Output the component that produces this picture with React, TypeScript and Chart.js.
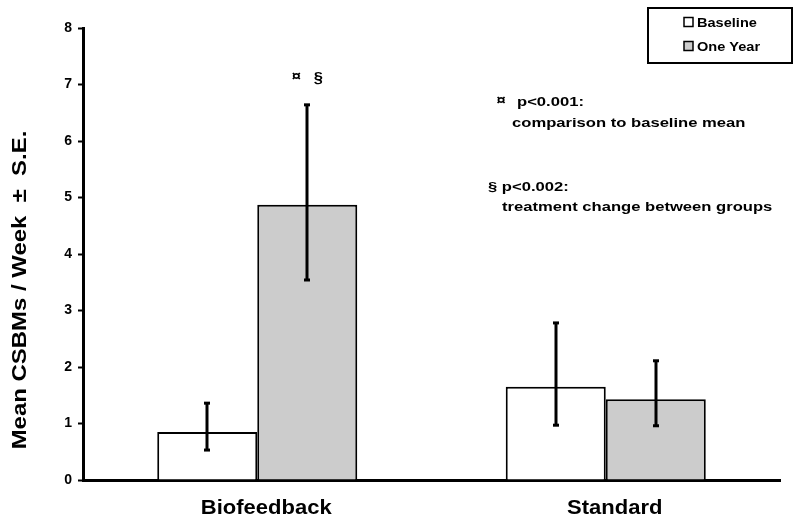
import { useEffect, useRef } from 'react';
import { Chart, registerables } from 'chart.js';

Chart.register(...registerables);

const FONT = '"Liberation Sans", Arial, Helvetica, sans-serif';

const categories = ['Biofeedback', 'Standard'];
const seriesNames = ['Baseline', 'One Year'];
const baselineMeans = [0.85, 1.65];
const oneYearMeans = [4.87, 1.43];
const baselineLow = [0.53, 0.97];
const baselineHigh = [1.36, 2.78];
const oneYearLow = [3.54, 0.96];
const oneYearHigh = [6.64, 2.11];
const yTicks = [0, 1, 2, 3, 4, 5, 6, 7, 8];
const yTitle = 'Mean CSBMs / Week  \u00B1  S.E.';
const sigMarks = ['\u00A4', '\u00A7'];
const noteLines = [
  ['\u00A4', 'p<0.001:'],
  ['comparison to baseline mean'],
  ['\u00A7 p<0.002:'],
  ['treatment change between groups'],
];

const lows = [baselineLow, oneYearLow];
const highs = [baselineHigh, oneYearHigh];

function txt(ctx: CanvasRenderingContext2D, s: string, x: number, y: number, size: number, align: CanvasTextAlign, sx: number) {
  ctx.save();
  ctx.translate(x, y);
  ctx.scale(sx, 1);
  ctx.font = `bold ${size}px ${FONT}`;
  ctx.textAlign = align;
  ctx.textBaseline = 'middle';
  ctx.fillStyle = '#000';
  ctx.fillText(s, 0, 0);
  ctx.restore();
}

export default function App() {
  const ref = useRef<HTMLCanvasElement>(null);

  useEffect(() => {
    const canvas = ref.current!;
    const overlay = {
      id: 'overlay',
      afterDatasetsDraw(chart: any) {
        const ctx: CanvasRenderingContext2D = chart.ctx;
        const ys = chart.scales.y;
        const xs = chart.scales.x;
        // error bars
        ctx.save();
        ctx.fillStyle = '#000';
        ctx.strokeStyle = '#000';
        for (let d = 0; d < chart.data.datasets.length; d++) {
          const meta = chart.getDatasetMeta(d);
          meta.data.forEach((bar: any, j: number) => {
            const x = Math.round(bar.x);
            const yl = ys.getPixelForValue(lows[d][j]);
            const yh = ys.getPixelForValue(highs[d][j]);
            ctx.lineWidth = 3;
            ctx.beginPath();
            ctx.moveTo(x, yl);
            ctx.lineTo(x, yh);
            ctx.stroke();
            ctx.fillRect(x - 3, yh - 1.5, 6, 3);
            ctx.fillRect(x - 3, yl - 1.5, 6, 3);
          });
        }
        ctx.restore();

        // category labels
        categories.forEach((c, j) => {
          txt(ctx, c, xs.getPixelForValue(j) + 9, 508, 20, 'center', 1.1);
        });

        // y title
        ctx.save();
        ctx.translate(20, 290);
        ctx.rotate(-Math.PI / 2);
        txt(ctx, yTitle, 0, 0, 21, 'center', 1.14);
        ctx.restore();

        // significance marks over biofeedback one-year bar
        const sigBar = chart.getDatasetMeta(1).data[0];
        const sy = ys.getPixelForValue(7.12);
        txt(ctx, sigMarks[0], sigBar.x - 11, sy - 1, 15, 'center', 1.1);
        txt(ctx, sigMarks[1], sigBar.x + 11, sy, 15, 'center', 1.1);

        // notes
        txt(ctx, noteLines[0][0], 501, 101, 15, 'center', 1.1);
        txt(ctx, noteLines[0][1], 517, 102, 13.5, 'left', 1.23);
        txt(ctx, noteLines[1][0], 512, 123, 13.5, 'left', 1.23);
        txt(ctx, noteLines[2][0], 488, 187, 13.5, 'left', 1.23);
        txt(ctx, noteLines[3][0], 502, 207, 13.5, 'left', 1.23);

        // legend box
        ctx.save();
        ctx.lineWidth = 2;
        ctx.strokeStyle = '#000';
        ctx.fillStyle = '#fff';
        ctx.fillRect(648, 8, 144, 55);
        ctx.strokeRect(648, 8, 144, 55);
        const fills = ['#ffffff', '#cccccc'];
        const ly = [22, 46];
        seriesNames.forEach((n, i) => {
          ctx.fillStyle = fills[i];
          ctx.fillRect(684, ly[i] - 4.5, 9, 9);
          ctx.lineWidth = 1.5;
          ctx.strokeRect(684, ly[i] - 4.5, 9, 9);
          txt(ctx, n, 697, ly[i] + 1, 13, 'left', 1.12);
        });
        ctx.restore();
      },
    };

    const chart = new Chart(canvas, {
      type: 'bar',
      data: {
        labels: categories,
        datasets: [
          {
            label: seriesNames[0],
            data: baselineMeans,
            backgroundColor: '#ffffff',
            borderColor: '#000000',
            borderWidth: 2,
          },
          {
            label: seriesNames[1],
            data: oneYearMeans,
            backgroundColor: '#cccccc',
            borderColor: '#000000',
            borderWidth: 2,
          },
        ],
      },
      options: {
        responsive: false,
        animation: false,
        layout: { padding: { top: 28, right: 20, left: 0, bottom: 0 } },
        datasets: { bar: { categoryPercentage: 0.574, barPercentage: 1 } },
        plugins: { legend: { display: false }, tooltip: { enabled: false } },
        scales: {
          x: {
            ticks: { display: false },
            grid: { display: true, drawOnChartArea: false, drawTicks: false, tickLength: 0 },
            border: { display: true, color: '#000', width: 3 },
            afterFit: (s: any) => { s.height = 45; },
          },
          y: {
            min: 0,
            max: 8,
            afterBuildTicks: (s: any) => { s.ticks = yTicks.map((v) => ({ value: v })); },
            ticks: {
              color: '#000',
              padding: 6,
              font: { family: FONT, size: 14, weight: 'bold' },
            },
            grid: { display: true, drawOnChartArea: false, drawTicks: true, tickLength: 5, tickWidth: 2, color: '#000' },
            border: { display: true, color: '#000', width: 3 },
            afterFit: (s: any) => { s.width = 83; },
          },
        },
      },
      plugins: [overlay],
    } as any);
    return () => chart.destroy();
  }, []);

  return (
    <div style={{ position: 'absolute', left: 0, top: 0, width: 800, height: 525, background: '#fff' }}>
      <canvas ref={ref} width={800} height={525} style={{ display: 'block' }} />
    </div>
  );
}
